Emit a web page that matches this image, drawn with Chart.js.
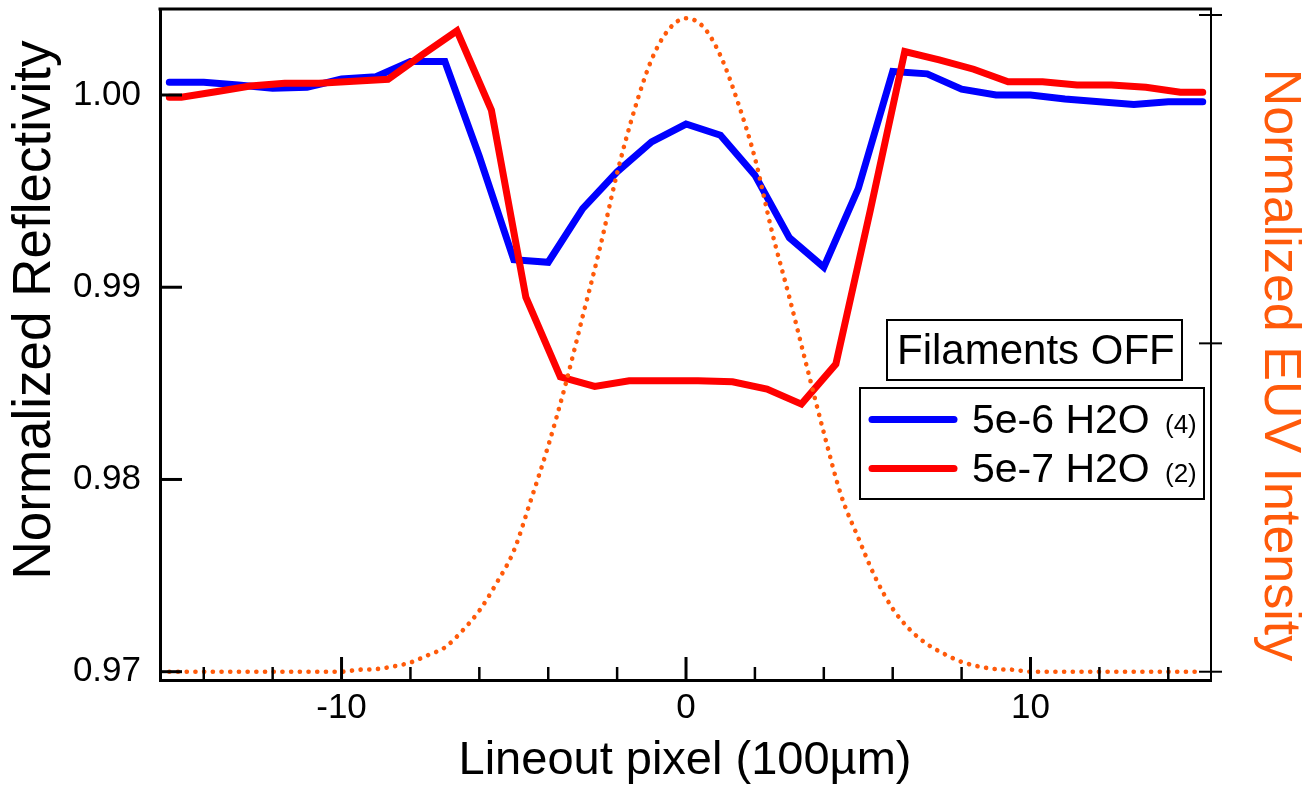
<!DOCTYPE html>
<html>
<head>
<meta charset="utf-8">
<title>Filaments OFF - normalized reflectivity</title>
<script src="https://cdn.jsdelivr.net/npm/chart.js@4.4.1/dist/chart.umd.min.js"></script>
<style>
  html, body { margin: 0; padding: 0; background: #fff; }
  #wrap { width: 1302px; height: 786px; }
</style>
</head>
<body>
<div id="wrap"><canvas id="myChart"></canvas></div>
<script>
// lineout pixel (100 um) for the 5e-6 H2O run
var pixels = [-15, -14, -13, -12, -11, -10, -9, -8, -7, -6, -5, -4, -3, -2, -1, 0,
  1, 2, 3, 4, 5, 6, 7, 8, 9, 10, 11, 12, 13, 14, 15];
var reflect5e6 = [1.00066, 1.00066, 1.00052, 1.00035, 1.0004, 1.00083, 1.00095, 1.00174, 1.00174, 0.99680,
  0.99143, 0.99130, 0.99409, 0.99600, 0.99756, 0.99849, 0.99791, 0.99583, 0.99258, 0.99104,
  0.99513, 1.00122, 1.0011, 1.0003, 1.0000, 1.0000, 0.99979, 0.99965, 0.99951, 0.99965, 0.99965];

// the 5e-7 H2O run is sampled slightly shifted
var redPixels = [-15, -14.65, -13.65, -12.65, -11.65, -10.65, -9.65, -8.65, -7.65, -6.65, -5.65, -4.65,
  -3.65, -2.65, -1.65, -0.65, 0.35, 1.35, 2.35, 3.35, 4.35, 5.35, 6.35, 7.35, 8.35, 9.35,
  10.35, 11.35, 12.35, 13.35, 14.35, 15];
var reflect5e7 = [0.99988, 0.99988, 1.00017, 1.00047, 1.00061, 1.00061, 1.00071, 1.00082, 1.0021, 1.00334, 0.99922, 0.98948,
  0.98534, 0.98484, 0.98513, 0.98513, 0.98513, 0.98508, 0.98470, 0.98392, 0.98600, 0.99401, 1.00226, 1.00183, 1.00134, 1.00069,
  1.00069, 1.00052, 1.00052, 1.00040, 1.00014, 1.00014];

// EUV beam profile (right axis)
var euvPixels = [-15, -14.5, -14, -13.5, -13, -12.5, -12, -11.5, -11, -10.5, -10, -9.5, -9, -8.5, -8, -7.5,
  -7, -6.5, -6, -5.5, -5, -4.5, -4, -3.5, -3, -2.5, -2, -1.5, -1, -0.5, 0,
  0.5, 1, 1.5, 2, 2.5, 3, 3.5, 4, 4.5, 5, 5.5, 6, 6.5, 7, 7.5,
  8, 8.5, 9, 9.5, 10, 10.5, 11, 11.5, 12, 12.5, 13, 13.5, 14, 14.5, 15];
var euvIntensity = [0, 0, 0, 0, 0, 0, 0, 0, 0, 0, 0, 0.003, 0.004, 0.008, 0.014, 0.025,
  0.037, 0.062, 0.093, 0.135, 0.184, 0.262, 0.344, 0.437, 0.541, 0.645, 0.759, 0.855, 0.932, 0.978, 0.995,
  0.982, 0.938, 0.868, 0.782, 0.669, 0.570, 0.466, 0.364, 0.269, 0.204, 0.143, 0.096, 0.064, 0.042, 0.027,
  0.015, 0.008, 0.004, 0.003, 0, 0, 0, 0, 0, 0, 0, 0, 0, 0, 0];

var xMajorTicks = [-10, 0, 10];
var xMinorTicks = [-14, -12, -8, -6, -4, -2, 2, 4, 6, 8, 12, 14];
var leftTicks = [0.97, 0.98, 0.99, 1.00];
var rightTicks = [0, 0.5, 1];

var FONT = '"Liberation Sans", Arial, Helvetica, sans-serif';
var EUV_COLOR = "#ff5a0a";

function toPoints(xs, ys) {
  return xs.map(function (x, i) { return { x: x, y: ys[i] }; });
}

function noPadding(scale) {
  scale.paddingTop = 0;
  scale.paddingBottom = 0;
  scale.paddingLeft = 0;
  scale.paddingRight = 0;
}

function line(ctx, x1, y1, x2, y2) {
  ctx.beginPath();
  ctx.moveTo(x1, y1);
  ctx.lineTo(x2, y2);
  ctx.stroke();
}

// frame, inward ticks, titles and the boxed legend
var decorations = {
  id: "decorations",
  afterDraw: function (chart) {
    var ctx = chart.ctx;
    var a = chart.chartArea;
    var xs = chart.scales.x, ys = chart.scales.y, ys2 = chart.scales.y2;
    ctx.save();
    ctx.strokeStyle = "#000";
    ctx.lineCap = "butt";

    ctx.lineWidth = 3;
    line(ctx, a.left - 1.5, a.top, a.right + 1, a.top);

    leftTicks.forEach(function (v) {
      var py = ys.getPixelForValue(v);
      line(ctx, a.left, py, a.left + 22, py);
    });
    xMajorTicks.forEach(function (v) {
      var px = xs.getPixelForValue(v);
      line(ctx, px, a.bottom, px, a.bottom - 23);
    });
    ctx.lineWidth = 2.5;
    xMinorTicks.forEach(function (v) {
      var px = xs.getPixelForValue(v);
      line(ctx, px, a.bottom, px, a.bottom - 13);
    });
    ctx.lineWidth = 2;
    rightTicks.forEach(function (v) {
      var py = ys2.getPixelForValue(v);
      line(ctx, a.right - 12, py, a.right + 11, py);
    });

    // axis titles
    ctx.textAlign = "center";
    ctx.textBaseline = "middle";
    ctx.fillStyle = "#000";
    ctx.font = "53px " + FONT;
    ctx.save();
    ctx.translate(35, 310);
    ctx.rotate(-Math.PI / 2);
    ctx.fillText("Normalized Reflectivity", 0, 0);
    ctx.restore();

    ctx.fillStyle = EUV_COLOR;
    ctx.font = "52px " + FONT;
    ctx.save();
    ctx.translate(1279, 365);
    ctx.rotate(Math.PI / 2);
    ctx.fillText("Normalized EUV Intensity", 0, 0);
    ctx.restore();

    ctx.fillStyle = "#000";
    ctx.font = "47px " + FONT;
    ctx.fillText("Lineout pixel (100\u00b5m)", 685, 761);

    // legend
    ctx.lineWidth = 2;
    ctx.fillStyle = "#fff";
    ctx.fillRect(887, 320, 295, 60);
    ctx.strokeRect(887, 320, 295, 60);
    ctx.fillRect(860, 388, 344, 111);
    ctx.strokeRect(860, 388, 344, 111);

    ctx.fillStyle = "#000";
    ctx.textAlign = "left";
    ctx.textBaseline = "alphabetic";
    ctx.font = "42px " + FONT;
    ctx.fillText("Filaments OFF", 897, 364);

    var entries = [
      { color: "#0000ff", label: "5e-6 H2O", count: "(4)", y: 419.5, base: 433 },
      { color: "#ff0000", label: "5e-7 H2O", count: "(2)", y: 468.5, base: 482 },
    ];
    entries.forEach(function (e) {
      ctx.strokeStyle = e.color;
      ctx.lineWidth = 7;
      ctx.lineCap = "round";
      line(ctx, 872, e.y, 954, e.y);
      ctx.fillStyle = "#000";
      ctx.font = "41px " + FONT;
      ctx.fillText(e.label, 972, e.base);
      ctx.font = "26px " + FONT;
      ctx.fillText(e.count, 1165, e.base);
    });
    ctx.restore();
  },
};

Chart.defaults.font.family = FONT;
Chart.defaults.color = "#000";

let ctx = document.getElementById("myChart").getContext("2d");

var myChart = new Chart(ctx, {
  type: "line",
  data: {
    datasets: [
      {
        label: "Normalized EUV Intensity",
        data: toPoints(euvPixels, euvIntensity),
        yAxisID: "y2",
        borderColor: EUV_COLOR,
        borderWidth: 4.6,
        borderDash: [0.1, 8.6],
        borderCapStyle: "round",
        cubicInterpolationMode: "monotone",
        pointRadius: 0,
        order: 0,
      },
      {
        label: "5e-7 H2O (2)",
        data: toPoints(redPixels, reflect5e7),
        yAxisID: "y",
        borderColor: "#ff0000",
        borderWidth: 7,
        borderCapStyle: "round",
        borderJoinStyle: "miter",
        pointRadius: 0,
        order: 1,
      },
      {
        label: "5e-6 H2O (4)",
        data: toPoints(pixels, reflect5e6),
        yAxisID: "y",
        borderColor: "#0000ff",
        borderWidth: 7,
        borderCapStyle: "round",
        borderJoinStyle: "miter",
        pointRadius: 0,
        order: 2,
      },
    ],
  },
  options: {
    responsive: true,
    maintainAspectRatio: false,
    animation: false,
    devicePixelRatio: 1,
    layout: { padding: { top: 9, left: 0, right: 0, bottom: 0 } },
    plugins: {
      legend: { display: false },
      tooltip: { enabled: false },
    },
    scales: {
      x: {
        type: "linear",
        position: "bottom",
        min: -15.27,
        max: 15.24,
        afterBuildTicks: function (scale) {
          scale.ticks = xMajorTicks.map(function (v) { return { value: v }; });
        },
        ticks: {
          font: { size: 35 },
          color: "#000",
          padding: 7,
          maxRotation: 0,
          autoSkip: false,
          callback: function (v) { return String(v); },
        },
        grid: { display: false, drawTicks: false },
        border: { display: true, color: "#000", width: 3 },
        afterFit: function (scale) {
          scale.height = 106;
          noPadding(scale);
        },
      },
      y: {
        type: "linear",
        position: "left",
        min: 0.969568,
        max: 1.004474,
        afterBuildTicks: function (scale) {
          scale.ticks = leftTicks.map(function (v) { return { value: v }; });
        },
        ticks: {
          font: { size: 35 },
          color: "#000",
          padding: 19,
          callback: function (v) { return v.toFixed(2); },
        },
        grid: { display: false, drawTicks: false },
        border: { display: true, color: "#000", width: 3 },
        afterFit: function (scale) {
          scale.width = 160;
          noPadding(scale);
        },
      },
      y2: {
        type: "linear",
        position: "right",
        min: -0.0126,
        max: 1.0091,
        ticks: { display: false },
        grid: { display: false, drawTicks: false },
        border: { display: true, color: "#000", width: 2 },
        afterFit: function (scale) {
          scale.width = 91;
          noPadding(scale);
        },
      },
    },
  },
  plugins: [decorations],
});
</script>
</body>
</html>
